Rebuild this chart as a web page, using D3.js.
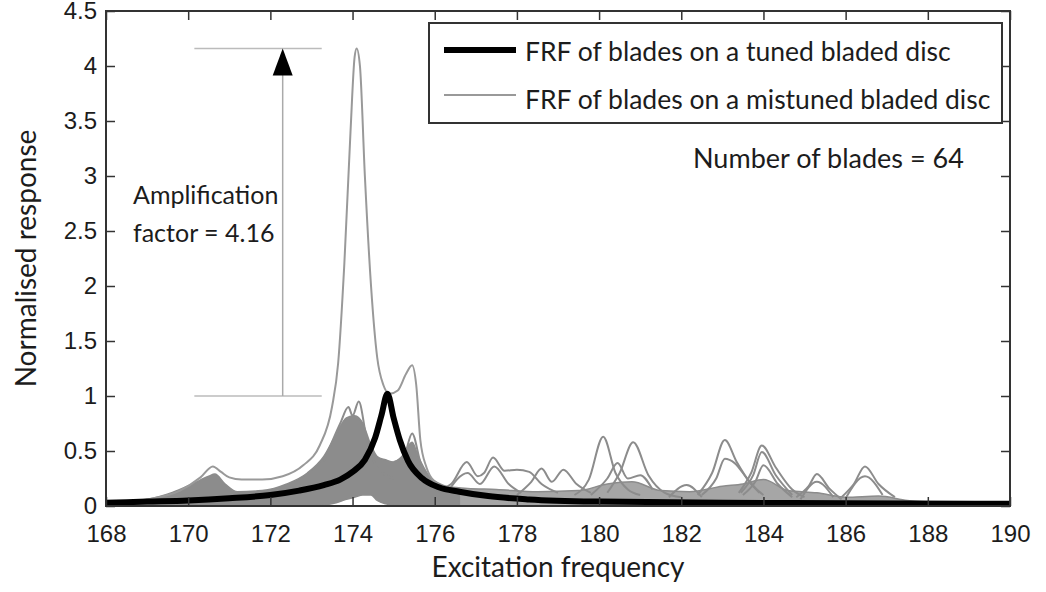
<!DOCTYPE html>
<html>
<head>
<meta charset="utf-8">
<script src="https://cdn.jsdelivr.net/npm/d3@7"></script>
<style>
  body { margin: 0; background: #fff; }
  svg { display: block; font-family: "Gill Sans", "Lato", sans-serif; }
  .axis text { font-size: 24px; fill: #1c1c1c; }
  .axis line { stroke: #333; stroke-width: 1.5; }
  .axis path { display: none; }
</style>
</head>
<body>
<svg id="chart" width="1046" height="592"></svg>
<script>
"use strict";

/** Tick values and labels. */
var xTicks = [168, 170, 172, 174, 176, 178, 180, 182, 184, 186, 188, 190];
var yTicks = [0, 0.5, 1, 1.5, 2, 2.5, 3, 3.5, 4, 4.5];

/** FRF of blades on the tuned disc: [frequency, response]. */
var tunedFRF = [
    [168, 0.03], [169, 0.04], [170, 0.05], [171, 0.07], [172, 0.10], [172.7, 0.14],
    [173.3, 0.19], [173.7, 0.24], [174.0, 0.31], [174.3, 0.42], [174.55, 0.62],
    [174.7, 0.82], [174.85, 1.02], [175.0, 0.80], [175.15, 0.60], [175.35, 0.41],
    [175.7, 0.25], [176.1, 0.17], [176.6, 0.13], [177.3, 0.09], [178.3, 0.06],
    [180, 0.04], [183, 0.03], [186, 0.025], [190, 0.02]
];

/** Worst mistuned blade (amplification 4.16). */
var worstBlade = [
    [168, 0.03], [169, 0.06], [169.8, 0.14], [170.3, 0.26], [170.6, 0.36], [170.8, 0.31],
    [171.0, 0.26], [171.3, 0.24], [171.8, 0.24], [172.3, 0.27], [172.8, 0.37],
    [173.2, 0.55], [173.5, 0.90], [173.65, 1.30], [173.8, 2.20], [173.95, 3.40],
    [174.05, 4.08], [174.1, 4.16], [174.18, 4.0], [174.3, 3.0], [174.45, 2.0],
    [174.6, 1.35], [174.75, 1.10], [174.9, 1.02], [175.1, 1.05], [175.3, 1.20],
    [175.45, 1.28], [175.55, 1.10], [175.65, 0.60], [175.8, 0.35], [176.0, 0.22],
    [176.4, 0.15], [177, 0.1]
];

/** Dense band formed by the remaining mistuned blades, main resonance. */
var bandFreq = [168, 169, 169.6, 170.1, 170.5, 170.65, 170.9, 171.2, 171.8, 172.4, 172.9,
    173.3, 173.6, 173.85, 174.05, 174.25, 174.45, 174.6, 174.8, 175.0, 175.2, 175.45,
    175.6, 175.85, 176.2, 176.6];
var bandLow = [0, 0, 0, 0, 0, 0, 0, 0, 0, 0, 0,
    0.01, 0.03, 0.06, 0.08, 0.10, 0.10, 0.05, 0.02, 0.01, 0, 0,
    0, 0, 0, 0];
var bandHigh = [0.03, 0.06, 0.12, 0.20, 0.27, 0.29, 0.20, 0.13, 0.14, 0.20, 0.30,
    0.45, 0.65, 0.80, 0.82, 0.75, 0.55, 0.45, 0.42, 0.40, 0.45, 0.58,
    0.45, 0.28, 0.19, 0.16];

/** Sparser band above the higher modes. */
var tailFreq = [176.4, 176.8, 177.5, 178.5, 179.5, 180.2, 180.8, 181.5, 182.2, 183.0,
    183.5, 184.0, 184.6, 185.3, 186.0, 186.8, 187.5, 188.2, 188.5];
var tailHigh = [0.17, 0.16, 0.15, 0.13, 0.14, 0.20, 0.22, 0.14, 0.13, 0.18,
    0.20, 0.24, 0.14, 0.12, 0.08, 0.09, 0.05, 0.03, 0.0];

/** Individual mistuned blades that stand out of the band. */
var bladeCurves = [
    [[173.3, 0.40], [173.7, 0.75], [173.9, 0.90], [174.0, 0.82], [174.15, 0.95], [174.35, 0.60], [174.6, 0.35], [175.0, 0.25]],
    [[175.0, 0.40], [175.25, 0.45], [175.45, 0.66], [175.65, 0.40], [175.9, 0.20], [176.2, 0.12]],
    [[176.0, 0.14], [176.4, 0.20], [176.78, 0.40], [177.05, 0.27], [177.2, 0.30], [177.42, 0.44], [177.7, 0.32], [178.0, 0.33], [178.3, 0.31], [178.6, 0.20], [179.0, 0.12]],
    [[176.3, 0.12], [176.8, 0.30], [177.1, 0.20], [177.45, 0.36], [177.8, 0.20], [178.1, 0.12]],
    [[178.0, 0.10], [178.35, 0.22], [178.6, 0.34], [178.85, 0.22], [179.13, 0.33], [179.45, 0.20], [179.8, 0.12]],
    [[179.4, 0.10], [179.75, 0.24], [180.1, 0.63], [180.4, 0.30], [180.7, 0.15], [181.0, 0.10]],
    [[180.2, 0.12], [180.5, 0.30], [180.83, 0.58], [181.2, 0.28], [181.6, 0.12], [182.0, 0.08]],
    [[179.8, 0.10], [180.2, 0.25], [180.45, 0.39], [180.7, 0.25], [181.0, 0.28], [181.3, 0.15]],
    [[181.7, 0.08], [182.13, 0.19], [182.5, 0.08]],
    [[182.4, 0.10], [182.75, 0.30], [183.06, 0.60], [183.35, 0.40], [183.7, 0.20], [184.0, 0.10]],
    [[182.5, 0.10], [182.85, 0.25], [183.06, 0.43], [183.3, 0.39], [183.6, 0.25], [183.9, 0.12]],
    [[183.4, 0.12], [183.7, 0.30], [183.96, 0.55], [184.3, 0.35], [184.7, 0.15], [185.0, 0.08]],
    [[183.45, 0.12], [183.75, 0.28], [183.96, 0.49], [184.3, 0.28], [184.7, 0.10]],
    [[183.5, 0.10], [183.8, 0.22], [184.0, 0.37], [184.35, 0.20], [184.7, 0.08]],
    [[184.8, 0.08], [185.1, 0.18], [185.3, 0.29], [185.6, 0.16], [185.9, 0.06]],
    [[184.9, 0.06], [185.3, 0.22], [185.7, 0.08]],
    [[185.9, 0.08], [186.2, 0.20], [186.47, 0.36], [186.8, 0.20], [187.2, 0.08]],
    [[186.0, 0.07], [186.47, 0.27], [186.9, 0.10]]
];

/** Amplification annotation. */
var ampTop = 4.16;
var ampBottom = 1;
var ampX = 172.3;
var ampSpan = [170.15, 173.25];

var legendLabels = ["FRF of blades on a tuned bladed disc", "FRF of blades on a mistuned bladed disc"];

var MARGIN = { left: 106, top: 11, right: 36, bottom: 86 };
var WIDTH = 1046 - MARGIN.left - MARGIN.right;
var HEIGHT = 592 - MARGIN.top - MARGIN.bottom;
var GREY = "#8c8c8c";
var TEXT = "#1c1c1c";

var svg = d3.select("#chart");
var g = svg.append("g")
    .attr("transform", "translate(" + MARGIN.left + "," + MARGIN.top + ")");

var x = d3.scaleLinear().domain([168, 190]).range([0, WIDTH]);
var y = d3.scaleLinear().domain([0, 4.5]).range([HEIGHT, 0]);

var line = d3.line()
    .x(function(d) { return x(d[0]); })
    .y(function(d) { return y(d[1]); })
    .curve(d3.curveMonotoneX);

// dense band of mistuned blades
var band = d3.area()
    .x(function(d, i) { return x(bandFreq[i]); })
    .y0(function(d, i) { return y(bandLow[i]); })
    .y1(function(d, i) { return y(bandHigh[i]); })
    .curve(d3.curveMonotoneX);

var tail = d3.area()
    .x(function(d, i) { return x(tailFreq[i]); })
    .y0(y(0))
    .y1(function(d, i) { return y(tailHigh[i]); })
    .curve(d3.curveMonotoneX);

g.append("path")
    .datum(tailFreq)
    .attr("d", tail)
    .attr("fill", "#a6a6a6")
    .attr("stroke", GREY)
    .attr("stroke-width", 1.5);

g.append("path")
    .datum(bandFreq)
    .attr("d", band)
    .attr("fill", GREY)
    .attr("stroke", GREY)
    .attr("stroke-width", 1.5);

g.selectAll(".blade")
    .data(bladeCurves)
    .enter().append("path")
    .attr("class", "blade")
    .attr("d", line)
    .attr("fill", "none")
    .attr("stroke", GREY)
    .attr("stroke-width", 2);

g.append("path")
    .datum(worstBlade)
    .attr("d", line)
    .attr("fill", "none")
    .attr("stroke", "#999")
    .attr("stroke-width", 2);

g.append("path")
    .datum(tunedFRF)
    .attr("d", line)
    .attr("fill", "none")
    .attr("stroke", "#000")
    .attr("stroke-width", 6)
    .attr("stroke-linejoin", "round");

// amplification annotation
[ampTop, ampBottom].forEach(function(v) {
    g.append("line")
        .attr("x1", x(ampSpan[0])).attr("x2", x(ampSpan[1]))
        .attr("y1", y(v)).attr("y2", y(v))
        .attr("stroke", "#bbb").attr("stroke-width", 1.5);
});
g.append("line")
    .attr("x1", x(ampX)).attr("x2", x(ampX))
    .attr("y1", y(ampBottom)).attr("y2", y(ampTop) + 20)
    .attr("stroke", "#aaa").attr("stroke-width", 1.5);
g.append("path")
    .attr("d", "M" + x(ampX) + "," + y(ampTop) + "l-10,27h20z")
    .attr("fill", "#000");

var ampText = g.append("text")
    .attr("x", 27)
    .attr("y", y(2.75))
    .style("font-size", "25px")
    .attr("fill", TEXT);
ampText.append("tspan").text("Amplification");
ampText.append("tspan").attr("x", 27).attr("dy", 38).text("factor = 4.16");

g.append("text")
    .attr("x", 587)
    .attr("y", y(3.07))
    .style("font-size", "27px")
    .attr("fill", TEXT)
    .text("Number of blades = 64");

// axes, MATLAB style box with inward ticks
g.append("g")
    .attr("class", "axis")
    .attr("transform", "translate(0," + HEIGHT + ")")
    .call(d3.axisBottom(x).tickValues(xTicks).tickSize(-9).tickPadding(19).tickFormat(d3.format("d")));
g.append("g")
    .attr("class", "axis")
    .call(d3.axisTop(x).tickValues(xTicks).tickSize(-9).tickFormat(""));
g.append("g")
    .attr("class", "axis")
    .call(d3.axisLeft(y).tickValues(yTicks).tickSize(-9).tickPadding(9).tickFormat(function(d) { return d; }));
g.append("g")
    .attr("class", "axis")
    .attr("transform", "translate(" + WIDTH + ",0)")
    .call(d3.axisRight(y).tickValues(yTicks).tickSize(-9).tickFormat(""));

g.append("rect")
    .attr("width", WIDTH)
    .attr("height", HEIGHT)
    .attr("fill", "none")
    .attr("stroke", "#333")
    .attr("stroke-width", 2);

// axis titles
svg.append("text")
    .attr("x", MARGIN.left + WIDTH / 2)
    .attr("y", 577)
    .attr("text-anchor", "middle")
    .style("font-size", "28px")
    .attr("fill", TEXT)
    .text("Excitation frequency");
svg.append("text")
    .attr("transform", "translate(36," + (MARGIN.top + HEIGHT / 2) + ") rotate(-90)")
    .attr("text-anchor", "middle")
    .style("font-size", "28px")
    .attr("fill", TEXT)
    .text("Normalised response");

// legend
var legend = svg.append("g").attr("transform", "translate(429,23)");
legend.append("rect")
    .attr("width", 573).attr("height", 100)
    .attr("fill", "#fff").attr("stroke", "#333").attr("stroke-width", 2);
legend.selectAll(".key")
    .data(legendLabels)
    .enter().append("line")
    .attr("x1", 15).attr("x2", 87)
    .attr("y1", function(d, i) { return 27 + i * 45; })
    .attr("y2", function(d, i) { return 27 + i * 45; })
    .attr("stroke", function(d, i) { return i === 0 ? "#000" : "#999"; })
    .attr("stroke-width", function(d, i) { return i === 0 ? 6 : 2; });
legend.selectAll(".label")
    .data(legendLabels)
    .enter().append("text")
    .attr("x", 96)
    .attr("y", function(d, i) { return 38 + i * 48; })
    .style("font-size", "26.5px")
    .attr("fill", TEXT)
    .text(function(d) { return d; });
</script>
</body>
</html>
